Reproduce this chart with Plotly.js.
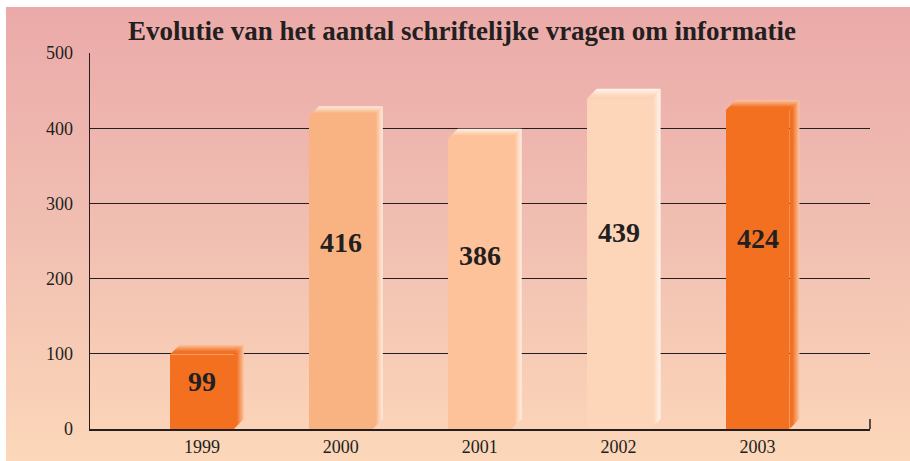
<!DOCTYPE html>
<html>
<head>
<meta charset="utf-8">
<script src="https://cdn.plot.ly/plotly-3.0.1.min.js"></script>
<style>
  html, body { margin: 0; padding: 0; background: #ffffff; }
  #wrap { position: relative; width: 910px; height: 461px; overflow: hidden; }
  #bg { position: absolute; left: 6px; top: 7px; right: 0; bottom: 0;
        background: linear-gradient(to bottom, #ebaaa9 0%, #f1bfb2 50%, #fcd7b9 100%); }
  #chart { position: absolute; left: 0; top: 0; width: 910px; height: 461px; }
</style>
</head>
<body>
<div id="wrap"><div id="bg"></div><div id="chart"></div></div>
<script>
// ---- data ----
const years = ['1999', '2000', '2001', '2002', '2003'];
const counts = [99, 416, 386, 439, 424];
const barColors = ['#f37021', '#f9b383', '#fdc299', '#fdd6ba', '#f37021'];
const yTicks = [0, 100, 200, 300, 400, 500];

// ---- layout geometry ----
const W = 910, H = 461;
const margin = {l: 90, r: 40, t: 53, b: 32, pad: 0};
const xRange = [-0.806, 4.81];
const yRange = [0, 500];
const plotW = W - margin.l - margin.r;
const plotH = H - margin.t - margin.b;
const pxX = plotW / (xRange[1] - xRange[0]);
const pxY = plotH / (yRange[1] - yRange[0]);
const barW = 0.46;
const depthX = 10 / pxX;
const depthY = 10 / pxY;
const ink = '#231f20';
const serif = '"Liberation Serif", "Times New Roman", serif';

function mix(hex, t) { // mix with white by t
  const r = parseInt(hex.slice(1,3),16), g = parseInt(hex.slice(3,5),16), b = parseInt(hex.slice(5,7),16);
  const f = c => Math.round(c + (255 - c) * t);
  return 'rgb(' + f(r) + ',' + f(g) + ',' + f(b) + ')';
}

const xs = years.map((_, i) => i);
const traces = [];

// front faces
traces.push({
  type: 'bar', x: xs, y: counts, width: barW,
  marker: {color: barColors, line: {width: 0}},
  hoverinfo: 'skip', showlegend: false
});

// side and top faces
xs.forEach((xi, i) => {
  const v = counts[i];
  const x0 = xi - barW / 2, x1 = xi + barW / 2;
  const c = barColors[i];
  const light = mix(c, i === 0 || i === 4 ? 0.6 : 0.75);
  traces.push({
    type: 'scatter', mode: 'lines', showlegend: false, hoverinfo: 'skip',
    x: [x1, x1 + depthX, x1 + depthX, x1, x1],
    y: [0, depthY, v + depthY, v, 0],
    fill: 'toself', line: {width: 0, color: 'rgba(0,0,0,0)'},
    fillgradient: {type: 'horizontal', colorscale: [[0, c], [0.3, c], [1, light]]}
  });
  traces.push({
    type: 'scatter', mode: 'lines', showlegend: false, hoverinfo: 'skip',
    x: [x0, x0 + depthX, x1 + depthX, x1, x0],
    y: [v, v + depthY, v + depthY, v, v],
    fill: 'toself', line: {width: 0, color: 'rgba(0,0,0,0)'},
    fillgradient: {type: 'vertical', colorscale: [[0, c], [0.3, c], [1, light]]}
  });
});

const annotations = xs.map((xi, i) => ({
  x: xi, y: counts[i] * 0.585 + 5, xref: 'x', yref: 'y',
  text: String(counts[i]), showarrow: false,
  font: {family: serif, size: 28, color: ink, weight: 'bold'},
  xanchor: 'center', yanchor: 'middle'
}));

const layout = {
  width: W, height: H, margin: margin,
  paper_bgcolor: 'rgba(0,0,0,0)', plot_bgcolor: 'rgba(0,0,0,0)',
  title: {
    text: '<b>Evolutie van het aantal schriftelijke vragen om informatie</b>',
    font: {family: serif, size: 27, color: ink},
    x: 462 / W, xanchor: 'center', xref: 'container',
    y: 1 - 31 / H, yanchor: 'middle', yref: 'container'
  },
  xaxis: {
    range: xRange, tickvals: xs, ticktext: years, showgrid: false, zeroline: false,
    showline: true, linecolor: ink, linewidth: 1.5, ticks: '',
    tickfont: {family: serif, size: 18, color: ink}, ticklabelstandoff: 1,
    fixedrange: true
  },
  yaxis: {
    range: yRange, tickvals: yTicks, showgrid: true, gridcolor: ink, gridwidth: 1,
    zeroline: false, showline: true, linecolor: ink, linewidth: 1.5, ticks: '',
    tickfont: {family: serif, size: 18, color: ink}, ticklabelstandoff: 12,
    fixedrange: true
  },
  shapes: [{
    type: 'line', xref: 'paper', yref: 'paper', x0: 1, x1: 1, y0: 0, y1: 10 / plotH,
    line: {color: ink, width: 1.5}
  }],
  annotations: annotations,
  bargap: 0, showlegend: false
};

Plotly.newPlot('chart', traces, layout, {displayModeBar: false, staticPlot: true});
</script>
</body>
</html>
